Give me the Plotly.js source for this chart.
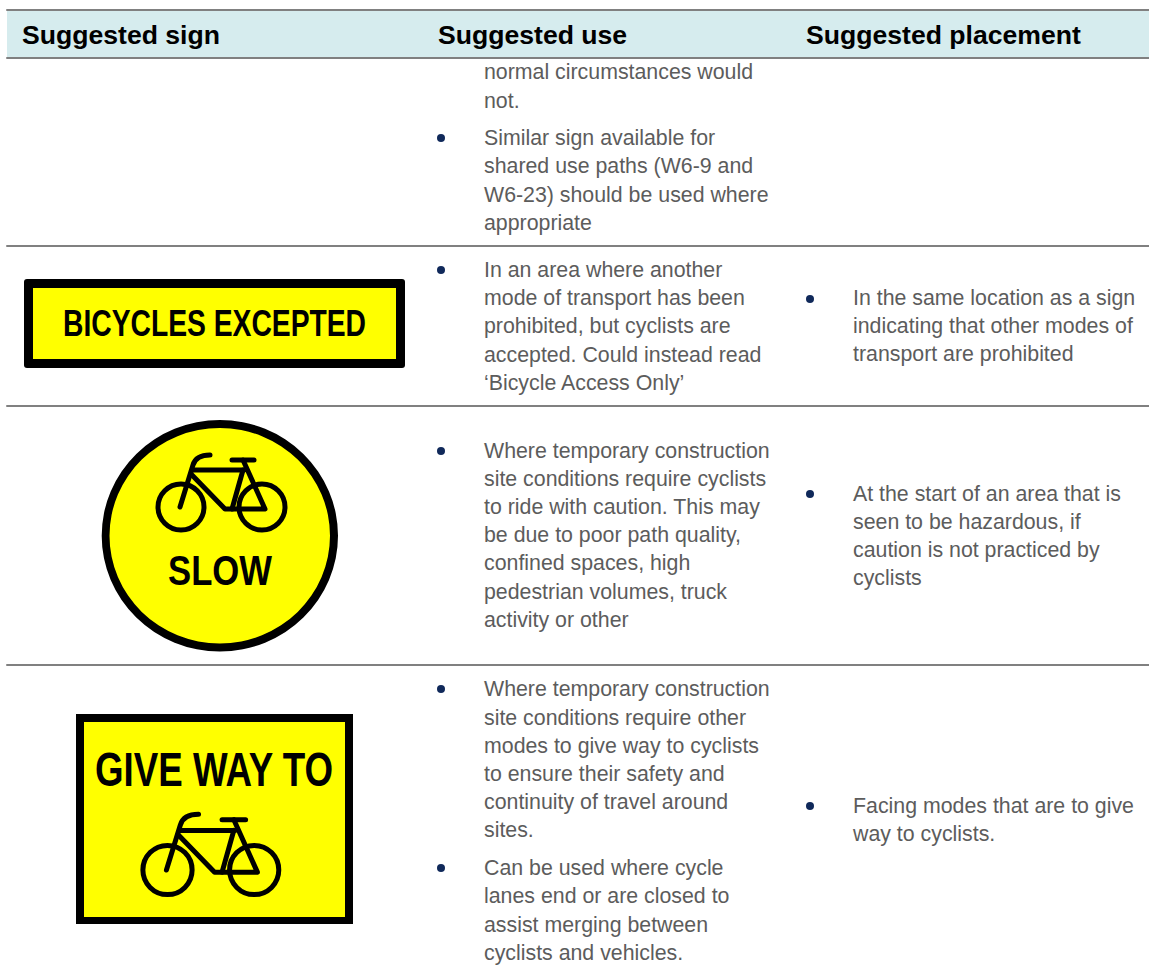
<!DOCTYPE html>
<html><head><meta charset="utf-8">
<script src="https://cdn.plot.ly/plotly-3.0.1.min.js"></script>
<style>html,body{margin:0;padding:0;background:#fff}#c{width:1149px;height:972px}</style>
</head><body><div id="c"></div>
<script>
const headers = ["Suggested sign","Suggested use","Suggested placement"];
const headerX = [22,438,806];
const useLines = ["normal circumstances would","not.","Similar sign available for","shared use paths (W6-9 and","W6-23) should be used where","appropriate",
"In an area where another","mode of transport has been","prohibited, but cyclists are","accepted. Could instead read","‘Bicycle Access Only’",
"Where temporary construction","site conditions require cyclists","to ride with caution. This may","be due to poor path quality,","confined spaces, high","pedestrian volumes, truck","activity or other",
"Where temporary construction","site conditions require other","modes to give way to cyclists","to ensure their safety and","continuity of travel around","sites.",
"Can be used where cycle","lanes end or are closed to","assist merging between","cyclists and vehicles."];
const useRows = [74,103,140,168,197,225,272,300,328,357,385,453,481,509,537,565,594,622,691,720,748,776,804,832,870,898,927,955];
const useBullets = [138,270,451,689,868];
const placeLines = ["In the same location as a sign","indicating that other modes of","transport are prohibited",
"At the start of an area that is","seen to be hazardous, if","caution is not practiced by","cyclists",
"Facing modes that are to give","way to cyclists."];
const placeRows = [300,328,356,496,524,552,580,808,836];
const placeBullets = [299,494,806];
const ruleRows = [10,58,246,406,665];
const signWords = ["BICYCLES EXCEPTED","SLOW","GIVE WAY TO"];
const signWidths = [303,104,238];

const BODY='#5c5c5c', Y='#ffff00', K='#000000';
const rect=(x0,y0,x1,y1,fill)=>({type:'rect',xref:'x',yref:'y',x0,y0,x1,y1,fillcolor:fill,line:{width:0},layer:'below'});
const oval=(x0,y0,x1,y1,fill,w)=>({type:'circle',xref:'x',yref:'y',x0,y0,x1,y1,fillcolor:fill||'rgba(0,0,0,0)',line:{width:w||0,color:K},layer:'below'});
const stroke=(path,w)=>({type:'path',xref:'x',yref:'y',path,line:{width:w,color:K},fillcolor:'rgba(0,0,0,0)',layer:'below'});
function rounded(x0,y0,x1,y1,r,fill){
  return {type:'path',xref:'x',yref:'y',layer:'below',fillcolor:fill,line:{width:0},
   path:`M${x0+r},${y0} L${x1-r},${y0} Q${x1},${y0} ${x1},${y0+r} L${x1},${y1-r} Q${x1},${y1} ${x1-r},${y1} L${x0+r},${y1} Q${x0},${y1} ${x0},${y1-r} L${x0},${y0+r} Q${x0},${y0} ${x0+r},${y0} Z`};
}
function bike(ox,oy,s,w){
  const p=(x,y)=>`${ox+x*s},${oy+y*s}`;
  const R=23*s, fx=81;
  return [
    oval(ox-R,oy-R,ox+R,oy+R,null,w),
    oval(ox+fx*s-R,oy-R,ox+fx*s+R,oy+R,null,w),
    stroke(`M${p(-1,0)} L${p(12,-42)} Q${p(15,-52)} ${p(29,-52)}`,w),
    stroke(`M${p(12,-37)} L${p(63,-37)}`,w),
    stroke(`M${p(51,-47)} L${p(73,-47)}`,w),
    stroke(`M${p(62,-47)} L${p(84,2)} L${p(44,2)} L${p(10,-33)}`,w),
    stroke(`M${p(62,-37)} L${p(51,2)}`,w)
  ];
}
const shapes=[
  rect(7,10,1149,58,'#d6ecee'),
  ...ruleRows.map(y=>({type:'line',xref:'x',yref:'y',x0:7,x1:1149,y0:y,y1:y,line:{color:'#808080',width:2},layer:'below'})),
  rounded(24,279,405,368,3,K), rect(33,288,396,359,Y),
  oval(101.7,420,338,651.5,K), oval(109.5,428,330,643.5,Y),
  ...bike(181,507,1,5),
  rect(76,714,353,924,K), rect(84,722,345,917,Y),
  ...bike(167.5,870,1.07,5)
];
const txt=(text,x,y,size,color,bold,pos)=>({type:'scatter',mode:'text',x,y,text,textposition:pos||'middle right',
  textfont:{family:'Liberation Sans',size,color,weight:bold?700:400},hoverinfo:'skip',showlegend:false,cliponaxis:false});
const rep=(v,a)=>a.map(()=>v);
const data=[
  txt(headers,headerX,rep(37,headers),26.6,'#000000',true),
  txt(useLines,rep(484,useLines),useRows,21.33,BODY),
  txt(placeLines,rep(853,placeLines),placeRows,21.33,BODY),
  {type:'scatter',mode:'markers',x:[...rep(441,useBullets),...rep(810,placeBullets)],y:[...useBullets,...placeBullets],
   marker:{size:8,color:'#10295a'},hoverinfo:'skip',showlegend:false},
  txt([signWords[0]],[214.5],[326.5],36,K,true,'middle center'),
  txt([signWords[1]],[220],[574],42,K,true,'middle center'),
  txt([signWords[2]],[214],[774],48,K,true,'middle center')
];
Plotly.newPlot('c',data,{
  width:1149,height:972,margin:{l:0,r:0,t:0,b:0},paper_bgcolor:'#fff',plot_bgcolor:'#fff',showlegend:false,hovermode:false,
  xaxis:{range:[0,1149],visible:false,fixedrange:true},
  yaxis:{range:[972,0],visible:false,fixedrange:true},
  shapes
},{displayModeBar:false,staticPlot:true}).then(gd=>{
  gd.querySelectorAll('text').forEach(t=>{
    const i=signWords.indexOf(t.textContent);
    if(i>=0){t.setAttribute('textLength',signWidths[i]);t.setAttribute('lengthAdjust','spacingAndGlyphs');}
  });
  gd.querySelectorAll('.shapelayer path').forEach(p=>{p.style.strokeLinecap='round';p.style.strokeLinejoin='round';});
});
</script></body></html>
